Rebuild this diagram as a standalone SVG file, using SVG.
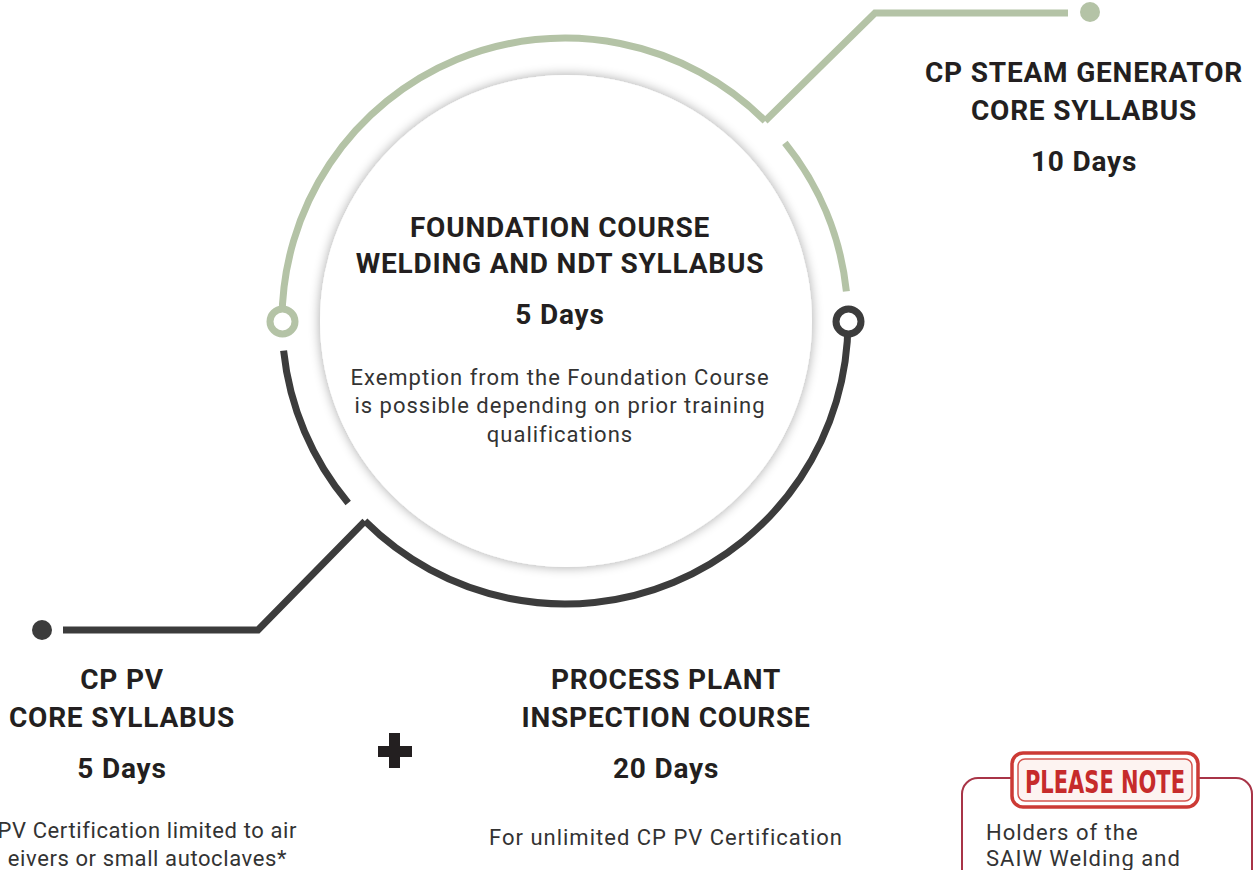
<svg xmlns="http://www.w3.org/2000/svg" width="1254" height="870" viewBox="0 0 1254 870">
<defs>
<style>
.h{font-family:Roboto,"Liberation Sans",sans-serif;font-weight:700;font-size:28px;letter-spacing:0.8px;fill:#231f20;text-anchor:middle}
.b{font-family:Roboto,"Liberation Sans",sans-serif;font-weight:400;font-size:22px;letter-spacing:1px;fill:#333333;text-anchor:middle}
.e{text-anchor:end;letter-spacing:0.6px}
.g{fill:none;stroke:#b4c3a6;stroke-width:7}
.d{fill:none;stroke:#3c3c3c;stroke-width:7}
</style>
<filter id="sh" x="-10%" y="-10%" width="120%" height="120%">
<feGaussianBlur in="SourceAlpha" stdDeviation="6"/>
<feComponentTransfer><feFuncA type="linear" slope="0.35"/></feComponentTransfer>
<feMerge><feMergeNode/><feMergeNode in="SourceGraphic"/></feMerge>
</filter>
</defs>
<rect width="1254" height="870" fill="#ffffff"/>

<g id="connectors">
<path class="g" d="M282,321 A283,283 0 0 1 765.1,120.9"/>
<path class="g" d="M765.1,120.9 L875,13 L1068,13"/>
<path class="g" d="M784.9,142.9 A283,283 0 0 1 846.4,291.4"/>
<path class="d" d="M848,321 A283,283 0 0 1 364.9,521.1"/>
<path class="d" d="M364.9,521.1 L258,630 L63,630"/>
<path class="d" d="M348.2,502.9 A283,283 0 0 1 283.6,350.6"/>
<circle cx="1090" cy="12" r="10" fill="#b4c3a6"/>
<circle cx="42" cy="630" r="10" fill="#3c3c3c"/>
<circle cx="282.5" cy="321.5" r="12.5" fill="#ffffff" stroke="#b4c3a6" stroke-width="7"/>
<circle cx="848.5" cy="321.5" r="12.5" fill="#ffffff" stroke="#3c3c3c" stroke-width="7"/>
</g>

<g id="foundation">
<circle cx="566" cy="321" r="246" fill="#ffffff" filter="url(#sh)"/>
<text class="h" x="560" y="237">FOUNDATION COURSE</text>
<text class="h" x="560" y="273">WELDING AND NDT SYLLABUS</text>
<text class="h" x="560" y="324">5 Days</text>
<text class="b" x="560" y="385">Exemption from the Foundation Course</text>
<text class="b" x="560" y="413">is possible depending on prior training</text>
<text class="b" x="560" y="442">qualifications</text>
</g>

<g id="steam">
<text class="h" x="1084" y="82">CP STEAM GENERATOR</text>
<text class="h" x="1084" y="120">CORE SYLLABUS</text>
<text class="h" x="1084" y="171">10 Days</text>
</g>

<g id="cppv">
<text class="h" x="122" y="689">CP PV</text>
<text class="h" x="122" y="727">CORE SYLLABUS</text>
<text class="h" x="122" y="778">5 Days</text>
<text class="b e" x="297" y="838">PV Certification limited to air</text>
<text class="b e" x="287" y="866">eivers or small autoclaves*</text>
</g>

<g id="plus">
<rect x="378" y="746" width="34" height="11" fill="#231f20"/>
<rect x="389" y="733" width="11" height="35" fill="#231f20"/>
</g>

<g id="process">
<text class="h" x="666" y="689">PROCESS PLANT</text>
<text class="h" x="666" y="727">INSPECTION COURSE</text>
<text class="h" x="666" y="778">20 Days</text>
<text class="b" x="666" y="845">For unlimited CP PV Certification</text>
</g>

<g id="note">
<rect x="962" y="778" width="290" height="130" rx="16" fill="none" stroke="#a83447" stroke-width="2"/>
<rect x="1012" y="753" width="186" height="54" rx="11" fill="#ffffff" stroke="#cc3a35" stroke-width="3.5"/>
<rect x="1018" y="759" width="174" height="42" rx="7" fill="#fdf3f1" stroke="#d4564f" stroke-width="1.5"/>
<text x="1105" y="793" textLength="160" lengthAdjust="spacingAndGlyphs" style="font-family:'DejaVu Sans Condensed','DejaVu Sans',sans-serif;font-weight:700;font-size:32px;fill:#c62b2b;text-anchor:middle">PLEASE NOTE</text>
<text class="b" x="986" y="840" style="text-anchor:start">Holders of the</text>
<text class="b" x="986" y="866" style="text-anchor:start">SAIW Welding and</text>
</g>
</svg>
